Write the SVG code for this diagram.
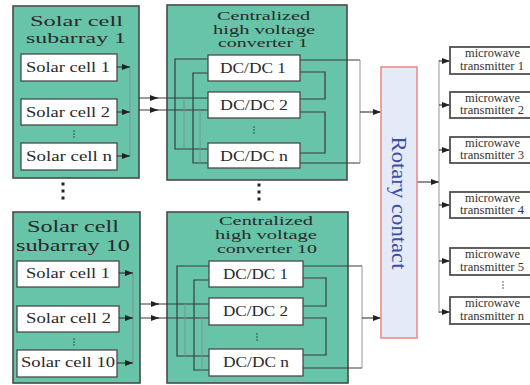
<svg xmlns="http://www.w3.org/2000/svg" width="530" height="385" viewBox="0 0 530 385">
<style>
.grp{fill:#67c4a9;stroke:#4a4a4a;stroke-width:1.6}
.wb{fill:#fff;stroke:#4a4a4a;stroke-width:1.3}
.mw{fill:#fff;stroke:#505050;stroke-width:1.8}
.rc{fill:#e4eaf7;stroke:#f08a8a;stroke-width:1.6}
text{font-family:"Liberation Serif","Times New Roman",serif;fill:#2a2a2a}
.t1{font-size:16.5px}
.t1s{font-size:15.5px}
.t2{font-size:14px}
.t3{font-size:13px}
.t3s{font-size:12.5px}
.t4{font-size:11.5px;fill:#333}
.rt{font-size:21px;fill:#3b4fa8;text-anchor:middle}
.ln{fill:none;stroke:#3a3a3a;stroke-width:1.2}
.lt{fill:none;stroke:#8a8a8a;stroke-width:0.9}
.ar{fill:none;stroke:#333;stroke-width:1.1;marker-end:url(#ah)}
.dot{fill:#222}
</style>
<defs>
<marker id="ah" viewBox="0 0 8 6" refX="8" refY="3" markerWidth="8" markerHeight="6" markerUnits="userSpaceOnUse" orient="auto">
<path d="M0,0 L8,3 L0,6 Z" fill="#222"/>
</marker>
</defs>

<g id="subarray1">
<rect class="grp" x="13" y="6" width="126" height="172"/>
<text class="t1s" x="30" y="25.5" textLength="93" lengthAdjust="spacingAndGlyphs">Solar cell</text>
<text class="t1s" x="26" y="43" textLength="100" lengthAdjust="spacingAndGlyphs">subarray 1</text>
<g id="sa1-cell1"><rect class="wb" x="21" y="54" width="96" height="27"/>
<text class="t2" x="26" y="72" textLength="84" lengthAdjust="spacingAndGlyphs">Solar cell 1</text></g>
<g id="sa1-cell2"><rect class="wb" x="21" y="99" width="96" height="26"/>
<text class="t2" x="26" y="117" textLength="84" lengthAdjust="spacingAndGlyphs">Solar cell 2</text></g>
<g id="sa1-celln"><rect class="wb" x="21" y="143" width="96" height="27"/>
<text class="t2" x="26" y="161" textLength="86" lengthAdjust="spacingAndGlyphs">Solar cell n</text></g>
<circle class="dot" cx="74" cy="131" r="0.7"/><circle class="dot" cx="74" cy="134" r="0.7"/><circle class="dot" cx="74" cy="137" r="0.7"/>
</g>

<g id="subarray10">
<rect class="grp" x="13" y="212" width="127" height="171"/>
<text class="t1" x="27" y="232" textLength="92" lengthAdjust="spacingAndGlyphs">Solar cell</text>
<text class="t1" x="16" y="251" textLength="114" lengthAdjust="spacingAndGlyphs">subarray 10</text>
<g id="sa10-cell1"><rect class="wb" x="17" y="261" width="102" height="26"/>
<text class="t2" x="26" y="278" textLength="84" lengthAdjust="spacingAndGlyphs">Solar cell 1</text></g>
<g id="sa10-cell2"><rect class="wb" x="17" y="306" width="102" height="26"/>
<text class="t2" x="26" y="323" textLength="85" lengthAdjust="spacingAndGlyphs">Solar cell 2</text></g>
<g id="sa10-cell10"><rect class="wb" x="17" y="350" width="100" height="27"/>
<text class="t2" x="21" y="367" textLength="94" lengthAdjust="spacingAndGlyphs">Solar cell 10</text></g>
<circle class="dot" cx="74" cy="339" r="0.7"/><circle class="dot" cx="74" cy="342" r="0.7"/><circle class="dot" cx="74" cy="345" r="0.7"/>
</g>

<g id="converter1">
<rect class="grp" x="167" y="5" width="180" height="175"/>
<text class="t3s" x="217" y="20" textLength="93" lengthAdjust="spacingAndGlyphs">Centralized</text>
<text class="t3s" x="213" y="33.5" textLength="102" lengthAdjust="spacingAndGlyphs">high voltage</text>
<text class="t3s" x="218" y="47" textLength="90" lengthAdjust="spacingAndGlyphs">converter 1</text>
</g>

<g id="converter10">
<rect class="grp" x="167" y="212" width="181" height="171"/>
<text class="t3" x="219" y="225" textLength="94" lengthAdjust="spacingAndGlyphs">Centralized</text>
<text class="t3" x="215" y="239" textLength="102" lengthAdjust="spacingAndGlyphs">high voltage</text>
<text class="t3" x="217" y="253" textLength="100" lengthAdjust="spacingAndGlyphs">converter 10</text>
</g>

<g id="ellipsis-between">
<rect class="dot" x="61.5" y="182.5" width="3" height="3"/><rect class="dot" x="61.5" y="189.5" width="3" height="3"/><rect class="dot" x="61.5" y="196.5" width="3" height="3"/>
<rect class="dot" x="257.5" y="183.5" width="3" height="3"/><rect class="dot" x="257.5" y="190.5" width="3" height="3"/><rect class="dot" x="257.5" y="197.5" width="3" height="3"/>
</g>

<g id="connectors">
<path class="lt" d="M130,67 V156"/>
<path class="ar" d="M117,67 H130"/>
<path class="ar" d="M117,112 H130"/>
<path class="ar" d="M117,156 H130"/>
<path class="lt" d="M133,273 V363"/>
<path class="ar" d="M119,273 H133"/>
<path class="ar" d="M119,318 H133"/>
<path class="ar" d="M117,363 H133"/>
<path class="ln" d="M139,98 H208"/>
<path class="ln" d="M139,110 H208"/>
<path class="ar" d="M150,98 H158"/>
<path class="ar" d="M150,110 H158"/>
<path class="ln" d="M208,59 H175 V149 H208"/>
<path class="ln" d="M208,73 H193 V163 H208"/>
<path class="lt" d="M184,98 V149"/>
<path class="lt" d="M200,110 V163"/>
<path class="ln" d="M300,60 H360"/>
<path class="ln" d="M300,72 H325 V99 H300"/>
<path class="ln" d="M300,112 H325 V153 H300"/>
<path class="ln" d="M300,163 H360"/>
<path class="lt" d="M360,60 V163"/>
<path class="ar" d="M360,112 H381"/>
<path class="ln" d="M140,304 H209"/>
<path class="ln" d="M140,318 H209"/>
<path class="ar" d="M151,304 H159"/>
<path class="ar" d="M151,318 H159"/>
<path class="ln" d="M209,266 H177 V356 H209"/>
<path class="ln" d="M209,280 H194 V370 H209"/>
<path class="lt" d="M185,304 V356"/>
<path class="lt" d="M202,318 V370"/>
<path class="ln" d="M303,266 H362"/>
<path class="ln" d="M303,278 H326 V306 H303"/>
<path class="ln" d="M303,318 H326 V355 H303"/>
<path class="ln" d="M303,368 H362"/>
<path class="lt" d="M362,266 V368"/>
<path class="ar" d="M362,318 H381"/>
<path class="ar" d="M417,182 H439"/>
<path class="lt" d="M439,60 V313"/>
<path class="ar" d="M439,61 H450"/>
<path class="ar" d="M439,105 H450"/>
<path class="ar" d="M439,150 H450"/>
<path class="ar" d="M439,205 H450"/>
<path class="ar" d="M439,261 H450"/>
<path class="ar" d="M439,312 H450"/>
</g>

<g id="dcdc1-1"><rect class="wb" x="208" y="55" width="92" height="26"/>
<text class="t2" x="220" y="73" textLength="66" lengthAdjust="spacingAndGlyphs">DC/DC 1</text></g>
<g id="dcdc1-2"><rect class="wb" x="208" y="92" width="92" height="26"/>
<text class="t2" x="220" y="110" textLength="68" lengthAdjust="spacingAndGlyphs">DC/DC 2</text></g>
<g id="dcdc1-n"><rect class="wb" x="208" y="143" width="92" height="25"/>
<text class="t2" x="220" y="161" textLength="68" lengthAdjust="spacingAndGlyphs">DC/DC n</text></g>
<g id="dcdc1-dots"><circle class="dot" cx="254" cy="127" r="0.7"/><circle class="dot" cx="254" cy="130" r="0.7"/><circle class="dot" cx="254" cy="133" r="0.7"/></g>

<g id="dcdc10-1"><rect class="wb" x="209" y="261" width="94" height="26"/>
<text class="t2" x="223" y="279" textLength="65" lengthAdjust="spacingAndGlyphs">DC/DC 1</text></g>
<g id="dcdc10-2"><rect class="wb" x="209" y="298" width="94" height="27"/>
<text class="t2" x="223" y="316" textLength="65" lengthAdjust="spacingAndGlyphs">DC/DC 2</text></g>
<g id="dcdc10-n"><rect class="wb" x="209" y="349" width="94" height="27"/>
<text class="t2" x="223" y="367" textLength="66" lengthAdjust="spacingAndGlyphs">DC/DC n</text></g>
<g id="dcdc10-dots"><circle class="dot" cx="257" cy="334" r="0.7"/><circle class="dot" cx="257" cy="337" r="0.7"/><circle class="dot" cx="257" cy="340" r="0.7"/></g>

<g id="rotary">
<rect class="rc" x="381" y="67" width="36" height="271"/>
<text class="rt" transform="translate(392,203) rotate(90)" textLength="133" lengthAdjust="spacingAndGlyphs">Rotary contact</text>
</g>

<g id="mw1"><rect class="mw" x="450" y="47" width="88" height="27"/>
<text class="t4" x="465" y="57" textLength="55" lengthAdjust="spacingAndGlyphs">microwave</text><text class="t4" x="460" y="69.5" textLength="64" lengthAdjust="spacingAndGlyphs">transmitter 1</text></g>
<g id="mw2"><rect class="mw" x="450" y="92" width="88" height="26"/>
<text class="t4" x="465" y="102" textLength="55" lengthAdjust="spacingAndGlyphs">microwave</text><text class="t4" x="460" y="114" textLength="64" lengthAdjust="spacingAndGlyphs">transmitter 2</text></g>
<g id="mw3"><rect class="mw" x="450" y="137" width="88" height="26"/>
<text class="t4" x="465" y="147" textLength="55" lengthAdjust="spacingAndGlyphs">microwave</text><text class="t4" x="460" y="159" textLength="64" lengthAdjust="spacingAndGlyphs">transmitter 3</text></g>
<g id="mw4"><rect class="mw" x="450" y="192" width="88" height="26"/>
<text class="t4" x="465" y="202" textLength="55" lengthAdjust="spacingAndGlyphs">microwave</text><text class="t4" x="460" y="214" textLength="64" lengthAdjust="spacingAndGlyphs">transmitter 4</text></g>
<g id="mw5"><rect class="mw" x="450" y="248" width="88" height="27"/>
<text class="t4" x="465" y="258" textLength="55" lengthAdjust="spacingAndGlyphs">microwave</text><text class="t4" x="460" y="270.5" textLength="64" lengthAdjust="spacingAndGlyphs">transmitter 5</text></g>
<g id="mwn"><rect class="mw" x="450" y="297" width="88" height="27"/>
<text class="t4" x="465" y="307" textLength="55" lengthAdjust="spacingAndGlyphs">microwave</text><text class="t4" x="460" y="319.5" textLength="64" lengthAdjust="spacingAndGlyphs">transmitter n</text></g>
<g id="mw-dots"><circle class="dot" cx="503" cy="282" r="0.7"/><circle class="dot" cx="503" cy="285" r="0.7"/><circle class="dot" cx="503" cy="288" r="0.7"/></g>
</svg>
